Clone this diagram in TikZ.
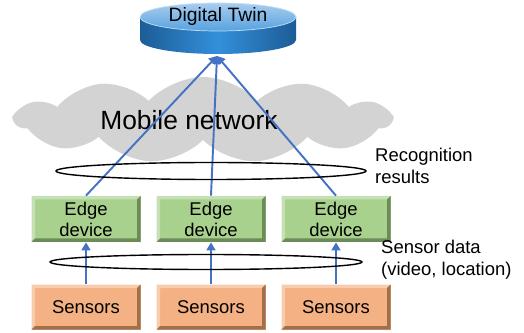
\documentclass[tikz,border=0pt]{standalone}
\usepackage{fontspec}
\setmainfont{Liberation Sans}
\usetikzlibrary{shapes.symbols,arrows.meta,positioning}
\definecolor{linkblue}{HTML}{4472C4}
\definecolor{netgray}{HTML}{D3D3D3}
\definecolor{edgefill}{HTML}{A9D18E}
\definecolor{edgelight}{HTML}{C5E0B4}
\definecolor{edgedark}{HTML}{6D8B57}
\definecolor{sensfill}{HTML}{F4B183}
\definecolor{senslight}{HTML}{F8CBAD}
\definecolor{sensdark}{HTML}{A0704B}
\definecolor{dbdark}{HTML}{1C5C96}
\definecolor{dbmid}{HTML}{3390DA}
\definecolor{dbtop}{HTML}{A9CDEE}
\tikzset{
  bevel/.style n args={3}{fill=#1, path picture={
    \coordinate (sw) at (path picture bounding box.south west);
    \coordinate (ne) at (path picture bounding box.north east);
    \fill[#2] (sw) -- (sw |- ne) -- (ne) -- ([shift={(-0.07,-0.07)}]ne)
      -- ([shift={(0.07,-0.07)}]sw |- ne) -- ([shift={(0.07,0.07)}]sw) -- cycle;
    \fill[#3] (sw) -- (ne |- sw) -- (ne) -- ([shift={(-0.07,-0.07)}]ne)
      -- ([shift={(-0.07,0.07)}]ne |- sw) -- ([shift={(0.07,0.07)}]sw) -- cycle;
  }},
  edgebox/.style={bevel={edgefill}{edgelight}{edgedark}, minimum width=2.18cm, minimum height=0.92cm,
    inner sep=0pt, align=center, font=\fontsize{10.5}{12}\selectfont},
  sensbox/.style={bevel={sensfill}{senslight}{sensdark}, minimum width=2.18cm, minimum height=0.9cm,
    inner sep=0pt, font=\fontsize{10.5}{12}\selectfont},
  link/.style={draw=linkblue, line width=1.1pt, -{Triangle[length=4.5pt,width=5pt]}},
  bundle/.style={draw=black, line width=0.8pt},
  note/.style={anchor=west, align=left, font=\fontsize{10.5}{12.5}\selectfont},
}
\begin{document}
\begin{tikzpicture}
\useasboundingbox (0,0) rectangle (10.48,6.64);
% mobile network
\node[cloud, cloud puffs=11, cloud puff arc=95, aspect=4.6, fill=netgray, draw=none,
  minimum width=7.5cm, minimum height=1.72cm, inner sep=0pt] (net) at (4.06,4.24) {};
\node[font=\fontsize{15}{18}\selectfont] (nettext) at (3.78,4.24) {Mobile network};
% digital twin
\shade[left color=dbdark, right color=dbdark, middle color=dbmid]
  (2.80,6.30) -- (2.80,5.84) arc (180:360:1.56 and 0.28) -- (5.92,6.30) -- cycle;
\shade[top color=dbtop, bottom color=dbmid!70!dbtop] (4.36,6.30) ellipse (1.56 and 0.28);
\draw[white!70!dbmid, line width=0.4pt] (4.36,6.30) ellipse (1.56 and 0.28);
\node[font=\fontsize{11}{13}\selectfont] (twin) at (4.36,6.30) {Digital Twin};
\coordinate (twinbase) at (4.34,5.52);
% edge devices
\node[edgebox] (edge1) at (1.72,2.26) {Edge\\device};
\node[edgebox] (edge2) at (4.22,2.26) {Edge\\device};
\node[edgebox] (edge3) at (6.72,2.26) {Edge\\device};
% sensors
\node[sensbox, below=0.84cm of edge1] (sens1) {Sensors};
\node[sensbox, below=0.84cm of edge2] (sens2) {Sensors};
\node[sensbox, below=0.84cm of edge3] (sens3) {Sensors};
% connectors
\foreach \i in {1,2,3}{
  \draw[link] (edge\i.north) -- (twinbase);
  \draw[link] (sens\i.north) -- (edge\i.south);
}
% data bundles
\draw[bundle] (4.22,3.22) ellipse (3.1 and 0.17);
\draw[bundle] (4.12,1.40) ellipse (3.12 and 0.15);
\node[note] (reslabel) at (7.38,3.33) {Recognition\\results};
\node[note] (senslabel) at (7.50,1.44) {Sensor data\\(video, location)};
\end{tikzpicture}
\end{document}
